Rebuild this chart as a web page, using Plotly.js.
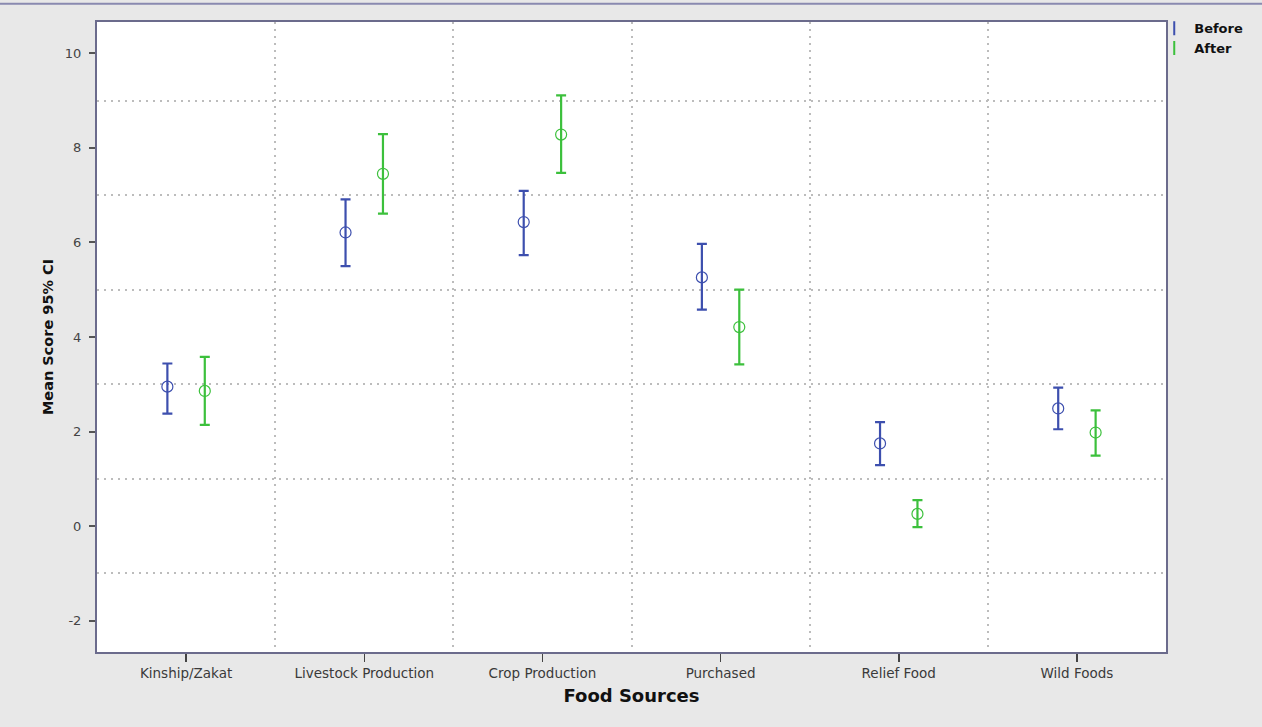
<!DOCTYPE html>
<html>
<head>
<meta charset="utf-8">
<script src="https://cdn.plot.ly/plotly-3.0.1.min.js"></script>
<style>html,body{margin:0;padding:0;background:#e8e8e8;}#chart{width:1262px;height:727px;}</style>
</head>
<body>
<div id="chart"></div>
<script>
const categories = ["Kinship/Zakat", "Livestock Production", "Crop Production", "Purchased", "Relief Food", "Wild Foods"];
const beforeMean  = [2.95, 6.21, 6.43, 5.26, 1.75, 2.49];
const beforeUpper = [3.44, 6.91, 7.09, 5.97, 2.20, 2.93];
const beforeLower = [2.38, 5.50, 5.73, 4.58, 1.29, 2.05];
const afterMean   = [2.86, 7.45, 8.28, 4.21, 0.26, 1.98];
const afterUpper  = [3.58, 8.29, 9.11, 5.00, 0.55, 2.45];
const afterLower  = [2.14, 6.61, 7.47, 3.42, -0.02, 1.49];
const yTicks = [-2, 0, 2, 4, 6, 8, 10];

const blue = "#3d4fae";
const green = "#3cc03c";
const idx = categories.map((c, i) => i);
const off = 0.105;

function ciTrace(name, mean, up, lo, color, shift) {
  return {
    type: "scatter", mode: "markers", name: name, showlegend: false,
    x: idx.map(i => i + shift), y: mean,
    marker: {symbol: "circle-open", size: 11, color: color, line: {width: 1.2, color: color}},
    error_y: {type: "data", symmetric: false,
      array: up.map((v, i) => v - mean[i]),
      arrayminus: mean.map((v, i) => v - lo[i]),
      color: color, thickness: 2.2, width: 5},
    hoverinfo: "skip"
  };
}
function legendTrace(name, color) {
  return {type: "scatter", mode: "markers", name: name, x: [null], y: [null],
    marker: {symbol: "line-ns-open", size: 10, color: color, line: {width: 2, color: color}}};
}

const data = [
  ciTrace("Before", beforeMean, beforeUpper, beforeLower, blue, -off),
  ciTrace("After", afterMean, afterUpper, afterLower, green, off),
  legendTrace("Before", blue),
  legendTrace("After", green)
];

const gridStyle = {gridcolor: "#bcbcbc", griddash: "2px,5px", gridwidth: 2, ticks: ""};

const layout = {
  width: 1262, height: 727,
  paper_bgcolor: "#e8e8e8", plot_bgcolor: "#ffffff",
  margin: {l: 97, r: 96, t: 22, b: 75},
  font: {family: "DejaVu Sans, sans-serif", size: 12, color: "#333"},
  showlegend: true,
  legend: {x: 0.989, y: 1.014, xanchor: "left", yanchor: "top", bgcolor: "rgba(0,0,0,0)",
    font: {size: 13, color: "#111", family: "DejaVu Sans, sans-serif", weight: "bold"},
    itemwidth: 30, tracegroupgap: 0},
  xaxis: {
    range: [-0.5, 5.5], tickvals: idx, ticktext: categories,
    showgrid: false, zeroline: false,
    ticks: "outside", ticklen: 8, tickwidth: 1.5, tickcolor: "#444",
    showline: true, linecolor: "#6b6b8c", linewidth: 2, mirror: true,
    tickfont: {size: 13.5, color: "#3a3a3a", family: "DejaVu Sans, sans-serif"},
    minor: Object.assign({tickvals: idx.slice(0, 5).map(i => i + 0.5), showgrid: true}, gridStyle),
    title: {text: "Food Sources", font: {size: 18, color: "#111", weight: "bold", family: "DejaVu Sans, sans-serif"}, standoff: 9}
  },
  yaxis: {
    range: [-2.66, 10.66], tickvals: yTicks, ticktext: yTicks.map(String),
    showgrid: false, zeroline: false,
    ticks: "outside", ticklen: 6, tickwidth: 2, tickcolor: "#555",
    ticklabelstandoff: 5,
    showline: true, linecolor: "#6b6b8c", linewidth: 2, mirror: true,
    tickfont: {size: 13, color: "#444", family: "DejaVu Sans, sans-serif"},
    minor: Object.assign({tick0: 1, dtick: 2, showgrid: true}, gridStyle),
    title: {text: "Mean Score 95% CI", font: {size: 14.5, color: "#111", weight: "bold", family: "DejaVu Sans, sans-serif"}, standoff: 8}
  },
  shapes: [
    {type: "line", xref: "paper", yref: "paper", x0: -0.1, x1: 1.1, y0: 1.029, y1: 1.029, line: {color: "#8a8ab0", width: 2}}
  ]
};

Plotly.newPlot("chart", data, layout, {displayModeBar: false, staticPlot: true});
</script>
</body>
</html>
